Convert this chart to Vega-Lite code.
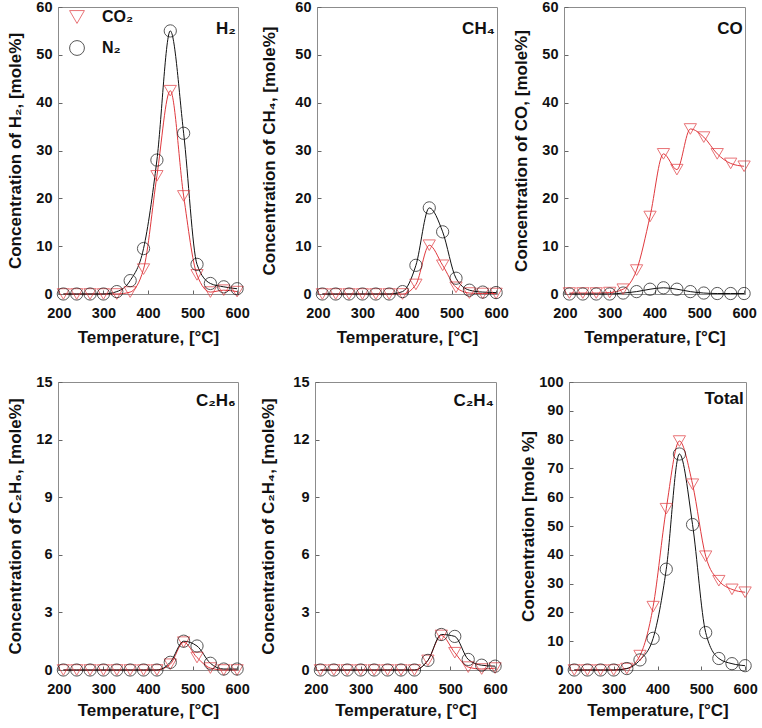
{
  "$schema": "https://vega.github.io/schema/vega-lite/v6.json",
  "background": "white",
  "padding": {"left": 6, "top": -2, "right": 1, "bottom": 2},
  "config": {
    "font": "Liberation Sans",
    "view": {"stroke": "#8c8c8c", "strokeWidth": 1},
    "scale": {"nice": false},
    "axis": {"grid": false, "labelFont": "Liberation Sans", "labelFontSize": 14.5, "labelFontWeight": "bold", "labelColor": "#111", "titleFont": "Liberation Sans", "titleFontSize": 17, "titleFontWeight": "bold", "titleColor": "#111", "domainColor": "#8c8c8c", "tickColor": "#666", "tickSize": -4, "labelFlush": false},
    "axisX": {"labelPadding": 16, "titlePadding": 10},
    "axisY": {"labelPadding": 10, "titlePadding": 11},
    "legend": {"orient": "none", "legendX": 11, "legendY": 2, "title": null, "labelFontSize": 16, "labelFontWeight": "bold", "labelColor": "#111", "symbolSize": 220, "symbolStrokeWidth": 1, "rowPadding": 12, "labelOffset": 17}
  },
  "datasets": {
    "d": [
      {"p": "H2", "gas": "CO2", "T": 210, "v": 0}, {"p": "H2", "gas": "CO2", "T": 240, "v": 0}, {"p": "H2", "gas": "CO2", "T": 270, "v": 0}, {"p": "H2", "gas": "CO2", "T": 300, "v": 0}, {"p": "H2", "gas": "CO2", "T": 330, "v": 0}, {"p": "H2", "gas": "CO2", "T": 360, "v": 0.4}, {"p": "H2", "gas": "CO2", "T": 390, "v": 5.2}, {"p": "H2", "gas": "CO2", "T": 420, "v": 24.7}, {"p": "H2", "gas": "CO2", "T": 450, "v": 42.5}, {"p": "H2", "gas": "CO2", "T": 480, "v": 20.5}, {"p": "H2", "gas": "CO2", "T": 510, "v": 4}, {"p": "H2", "gas": "CO2", "T": 540, "v": 0.4}, {"p": "H2", "gas": "CO2", "T": 570, "v": 0.8}, {"p": "H2", "gas": "CO2", "T": 600, "v": 0.5},
      {"p": "H2", "gas": "N2", "T": 210, "v": 0}, {"p": "H2", "gas": "N2", "T": 240, "v": 0}, {"p": "H2", "gas": "N2", "T": 270, "v": 0}, {"p": "H2", "gas": "N2", "T": 300, "v": 0}, {"p": "H2", "gas": "N2", "T": 330, "v": 0.5}, {"p": "H2", "gas": "N2", "T": 360, "v": 2.8}, {"p": "H2", "gas": "N2", "T": 390, "v": 9.5}, {"p": "H2", "gas": "N2", "T": 420, "v": 28}, {"p": "H2", "gas": "N2", "T": 450, "v": 55}, {"p": "H2", "gas": "N2", "T": 480, "v": 33.6}, {"p": "H2", "gas": "N2", "T": 510, "v": 6.2}, {"p": "H2", "gas": "N2", "T": 540, "v": 2.2}, {"p": "H2", "gas": "N2", "T": 570, "v": 1.5}, {"p": "H2", "gas": "N2", "T": 600, "v": 1.1},
      {"p": "CH4", "gas": "CO2", "T": 210, "v": 0}, {"p": "CH4", "gas": "CO2", "T": 240, "v": 0}, {"p": "CH4", "gas": "CO2", "T": 270, "v": 0}, {"p": "CH4", "gas": "CO2", "T": 300, "v": 0}, {"p": "CH4", "gas": "CO2", "T": 330, "v": 0}, {"p": "CH4", "gas": "CO2", "T": 360, "v": 0}, {"p": "CH4", "gas": "CO2", "T": 390, "v": 0}, {"p": "CH4", "gas": "CO2", "T": 420, "v": 2}, {"p": "CH4", "gas": "CO2", "T": 450, "v": 10.2}, {"p": "CH4", "gas": "CO2", "T": 480, "v": 6}, {"p": "CH4", "gas": "CO2", "T": 510, "v": 1.4}, {"p": "CH4", "gas": "CO2", "T": 540, "v": 0.2}, {"p": "CH4", "gas": "CO2", "T": 570, "v": 0.1}, {"p": "CH4", "gas": "CO2", "T": 600, "v": 0.1},
      {"p": "CH4", "gas": "N2", "T": 210, "v": 0}, {"p": "CH4", "gas": "N2", "T": 240, "v": 0}, {"p": "CH4", "gas": "N2", "T": 270, "v": 0}, {"p": "CH4", "gas": "N2", "T": 300, "v": 0}, {"p": "CH4", "gas": "N2", "T": 330, "v": 0}, {"p": "CH4", "gas": "N2", "T": 360, "v": 0}, {"p": "CH4", "gas": "N2", "T": 390, "v": 0.5}, {"p": "CH4", "gas": "N2", "T": 420, "v": 6}, {"p": "CH4", "gas": "N2", "T": 450, "v": 18}, {"p": "CH4", "gas": "N2", "T": 480, "v": 13}, {"p": "CH4", "gas": "N2", "T": 510, "v": 3.3}, {"p": "CH4", "gas": "N2", "T": 540, "v": 0.8}, {"p": "CH4", "gas": "N2", "T": 570, "v": 0.4}, {"p": "CH4", "gas": "N2", "T": 600, "v": 0.3},
      {"p": "CO", "gas": "CO2", "T": 210, "v": 0.2}, {"p": "CO", "gas": "CO2", "T": 240, "v": 0.2}, {"p": "CO", "gas": "CO2", "T": 270, "v": 0.2}, {"p": "CO", "gas": "CO2", "T": 300, "v": 0.3}, {"p": "CO", "gas": "CO2", "T": 330, "v": 1}, {"p": "CO", "gas": "CO2", "T": 360, "v": 5}, {"p": "CO", "gas": "CO2", "T": 390, "v": 16.2}, {"p": "CO", "gas": "CO2", "T": 420, "v": 29.3}, {"p": "CO", "gas": "CO2", "T": 450, "v": 26}, {"p": "CO", "gas": "CO2", "T": 480, "v": 34.5}, {"p": "CO", "gas": "CO2", "T": 510, "v": 32.8}, {"p": "CO", "gas": "CO2", "T": 540, "v": 29.3}, {"p": "CO", "gas": "CO2", "T": 570, "v": 27.3}, {"p": "CO", "gas": "CO2", "T": 600, "v": 26.7},
      {"p": "CO", "gas": "N2", "T": 210, "v": 0}, {"p": "CO", "gas": "N2", "T": 240, "v": 0}, {"p": "CO", "gas": "N2", "T": 270, "v": 0}, {"p": "CO", "gas": "N2", "T": 300, "v": 0}, {"p": "CO", "gas": "N2", "T": 330, "v": 0.2}, {"p": "CO", "gas": "N2", "T": 360, "v": 0.5}, {"p": "CO", "gas": "N2", "T": 390, "v": 1}, {"p": "CO", "gas": "N2", "T": 420, "v": 1.3}, {"p": "CO", "gas": "N2", "T": 450, "v": 1}, {"p": "CO", "gas": "N2", "T": 480, "v": 0.5}, {"p": "CO", "gas": "N2", "T": 510, "v": 0.2}, {"p": "CO", "gas": "N2", "T": 540, "v": 0.1}, {"p": "CO", "gas": "N2", "T": 570, "v": 0.1}, {"p": "CO", "gas": "N2", "T": 600, "v": 0.1},
      {"p": "C2H6", "gas": "CO2", "T": 210, "v": 0}, {"p": "C2H6", "gas": "CO2", "T": 240, "v": 0}, {"p": "C2H6", "gas": "CO2", "T": 270, "v": 0}, {"p": "C2H6", "gas": "CO2", "T": 300, "v": 0}, {"p": "C2H6", "gas": "CO2", "T": 330, "v": 0}, {"p": "C2H6", "gas": "CO2", "T": 360, "v": 0}, {"p": "C2H6", "gas": "CO2", "T": 390, "v": 0}, {"p": "C2H6", "gas": "CO2", "T": 420, "v": 0}, {"p": "C2H6", "gas": "CO2", "T": 450, "v": 0.3}, {"p": "C2H6", "gas": "CO2", "T": 480, "v": 1.45}, {"p": "C2H6", "gas": "CO2", "T": 510, "v": 0.65}, {"p": "C2H6", "gas": "CO2", "T": 540, "v": 0.1}, {"p": "C2H6", "gas": "CO2", "T": 570, "v": 0}, {"p": "C2H6", "gas": "CO2", "T": 600, "v": 0},
      {"p": "C2H6", "gas": "N2", "T": 210, "v": 0}, {"p": "C2H6", "gas": "N2", "T": 240, "v": 0}, {"p": "C2H6", "gas": "N2", "T": 270, "v": 0}, {"p": "C2H6", "gas": "N2", "T": 300, "v": 0}, {"p": "C2H6", "gas": "N2", "T": 330, "v": 0}, {"p": "C2H6", "gas": "N2", "T": 360, "v": 0}, {"p": "C2H6", "gas": "N2", "T": 390, "v": 0}, {"p": "C2H6", "gas": "N2", "T": 420, "v": 0}, {"p": "C2H6", "gas": "N2", "T": 450, "v": 0.4}, {"p": "C2H6", "gas": "N2", "T": 480, "v": 1.5}, {"p": "C2H6", "gas": "N2", "T": 510, "v": 1.25}, {"p": "C2H6", "gas": "N2", "T": 540, "v": 0.35}, {"p": "C2H6", "gas": "N2", "T": 570, "v": 0.05}, {"p": "C2H6", "gas": "N2", "T": 600, "v": 0.05},
      {"p": "C2H4", "gas": "CO2", "T": 210, "v": 0}, {"p": "C2H4", "gas": "CO2", "T": 240, "v": 0}, {"p": "C2H4", "gas": "CO2", "T": 270, "v": 0}, {"p": "C2H4", "gas": "CO2", "T": 300, "v": 0}, {"p": "C2H4", "gas": "CO2", "T": 330, "v": 0}, {"p": "C2H4", "gas": "CO2", "T": 360, "v": 0}, {"p": "C2H4", "gas": "CO2", "T": 390, "v": 0}, {"p": "C2H4", "gas": "CO2", "T": 420, "v": 0}, {"p": "C2H4", "gas": "CO2", "T": 450, "v": 0.5}, {"p": "C2H4", "gas": "CO2", "T": 480, "v": 1.8}, {"p": "C2H4", "gas": "CO2", "T": 510, "v": 0.9}, {"p": "C2H4", "gas": "CO2", "T": 540, "v": 0.15}, {"p": "C2H4", "gas": "CO2", "T": 570, "v": 0.05}, {"p": "C2H4", "gas": "CO2", "T": 600, "v": 0.1},
      {"p": "C2H4", "gas": "N2", "T": 210, "v": 0}, {"p": "C2H4", "gas": "N2", "T": 240, "v": 0}, {"p": "C2H4", "gas": "N2", "T": 270, "v": 0}, {"p": "C2H4", "gas": "N2", "T": 300, "v": 0}, {"p": "C2H4", "gas": "N2", "T": 330, "v": 0}, {"p": "C2H4", "gas": "N2", "T": 360, "v": 0}, {"p": "C2H4", "gas": "N2", "T": 390, "v": 0}, {"p": "C2H4", "gas": "N2", "T": 420, "v": 0}, {"p": "C2H4", "gas": "N2", "T": 450, "v": 0.5}, {"p": "C2H4", "gas": "N2", "T": 480, "v": 1.85}, {"p": "C2H4", "gas": "N2", "T": 510, "v": 1.75}, {"p": "C2H4", "gas": "N2", "T": 540, "v": 0.55}, {"p": "C2H4", "gas": "N2", "T": 570, "v": 0.25}, {"p": "C2H4", "gas": "N2", "T": 600, "v": 0.2},
      {"p": "Total", "gas": "CO2", "T": 210, "v": 0}, {"p": "Total", "gas": "CO2", "T": 240, "v": 0}, {"p": "Total", "gas": "CO2", "T": 270, "v": 0}, {"p": "Total", "gas": "CO2", "T": 300, "v": 0}, {"p": "Total", "gas": "CO2", "T": 330, "v": 0.5}, {"p": "Total", "gas": "CO2", "T": 360, "v": 5}, {"p": "Total", "gas": "CO2", "T": 390, "v": 22}, {"p": "Total", "gas": "CO2", "T": 420, "v": 56}, {"p": "Total", "gas": "CO2", "T": 450, "v": 79.5}, {"p": "Total", "gas": "CO2", "T": 480, "v": 64.5}, {"p": "Total", "gas": "CO2", "T": 510, "v": 39.5}, {"p": "Total", "gas": "CO2", "T": 540, "v": 31}, {"p": "Total", "gas": "CO2", "T": 570, "v": 28}, {"p": "Total", "gas": "CO2", "T": 600, "v": 27},
      {"p": "Total", "gas": "N2", "T": 210, "v": 0}, {"p": "Total", "gas": "N2", "T": 240, "v": 0}, {"p": "Total", "gas": "N2", "T": 270, "v": 0}, {"p": "Total", "gas": "N2", "T": 300, "v": 0}, {"p": "Total", "gas": "N2", "T": 330, "v": 0.5}, {"p": "Total", "gas": "N2", "T": 360, "v": 3.5}, {"p": "Total", "gas": "N2", "T": 390, "v": 11}, {"p": "Total", "gas": "N2", "T": 420, "v": 35}, {"p": "Total", "gas": "N2", "T": 450, "v": 75}, {"p": "Total", "gas": "N2", "T": 480, "v": 50.5}, {"p": "Total", "gas": "N2", "T": 510, "v": 13}, {"p": "Total", "gas": "N2", "T": 540, "v": 4}, {"p": "Total", "gas": "N2", "T": 570, "v": 2.2}, {"p": "Total", "gas": "N2", "T": 600, "v": 1.5}
    ],
    "labels": [
      {"p": "H2", "label": "H₂"}, {"p": "CH4", "label": "CH₄"}, {"p": "CO", "label": "CO"},
      {"p": "C2H6", "label": "C₂H₆"}, {"p": "C2H4", "label": "C₂H₄"}, {"p": "Total", "label": "Total"}
    ]
  },
  "spacing": 27,
  "resolve": {
    "scale": {"color": "independent", "shape": "independent"},
    "legend": {"color": "independent", "shape": "independent"}
  },
  "vconcat": [
    {
      "spacing": 3,
      "resolve": {"scale": {"color": "independent", "shape": "independent"}, "legend": {"color": "independent", "shape": "independent"}},
      "hconcat": [
        {
          "spacing": 10,
          "resolve": {"scale": {"color": "independent", "shape": "independent"}, "legend": {"color": "independent", "shape": "independent"}},
          "hconcat": [
            {
              "width": 180, "height": 287,
              "layer": [
                {"data": {"name": "d"}, "transform": [{"filter": "datum.p === 'H2'"}],
                 "mark": {"type": "line", "interpolate": "monotone", "strokeWidth": 1},
                 "encoding": {
                   "x": {"field": "T", "type": "quantitative", "scale": {"domain": [198, 602], "padding": 0, "zero": false}, "axis": {"values": [200, 300, 400, 500, 600], "title": "Temperature, [°C]"}},
                   "y": {"field": "v", "type": "quantitative", "scale": {"domain": [0, 60], "padding": 0}, "axis": {"values": [0, 10, 20, 30, 40, 50, 60], "title": "Concentration of H₂, [mole%]", "titlePadding": 11}},
                   "color": {"field": "gas", "type": "nominal", "scale": {"domain": ["CO2", "N2"], "range": ["#e0393e", "#111111"]}, "legend": {"labelExpr": "datum.value === 'CO2' ? 'CO₂' : 'N₂'"}}
                 }},
                {"data": {"name": "d"}, "transform": [{"filter": "datum.p === 'H2'"}],
                 "mark": {"type": "point", "filled": false, "size": 150, "strokeWidth": 1},
                 "encoding": {
                   "x": {"field": "T", "type": "quantitative", "scale": {"domain": [198, 602], "padding": 0, "zero": false}, "axis": {"values": [200, 300, 400, 500, 600], "title": "Temperature, [°C]"}},
                   "y": {"field": "v", "type": "quantitative", "scale": {"domain": [0, 60], "padding": 0}, "axis": {"values": [0, 10, 20, 30, 40, 50, 60], "title": "Concentration of H₂, [mole%]", "titlePadding": 11}},
                   "color": {"field": "gas", "type": "nominal", "scale": {"domain": ["CO2", "N2"], "range": ["#e0393e", "#111111"]}, "legend": {"labelExpr": "datum.value === 'CO2' ? 'CO₂' : 'N₂'"}},
                   "shape": {"field": "gas", "type": "nominal", "scale": {"domain": ["CO2", "N2"], "range": ["triangle-down", "circle"]}, "legend": {"labelExpr": "datum.value === 'CO2' ? 'CO₂' : 'N₂'"}}
                 }},
                {"data": {"name": "labels"}, "transform": [{"filter": "datum.p === 'H2'"}],
                 "mark": {"type": "text", "align": "right", "baseline": "middle", "fontSize": 17, "fontWeight": "bold", "color": "#111"},
                 "encoding": {
                   "x": {"datum": 597, "type": "quantitative", "scale": {"domain": [198, 602], "padding": 0, "zero": false}, "axis": {"values": [200, 300, 400, 500, 600], "title": "Temperature, [°C]"}},
                   "y": {"datum": 55.5, "type": "quantitative", "scale": {"domain": [0, 60], "padding": 0}, "axis": {"values": [0, 10, 20, 30, 40, 50, 60], "title": "Concentration of H₂, [mole%]", "titlePadding": 11}},
                   "text": {"field": "label"}}}
              ]
            },
            {
              "width": 180, "height": 287,
              "layer": [
                {"data": {"name": "d"}, "transform": [{"filter": "datum.p === 'CH4'"}],
                 "mark": {"type": "line", "interpolate": "monotone", "strokeWidth": 1},
                 "encoding": {
                   "x": {"field": "T", "type": "quantitative", "scale": {"domain": [198, 602], "padding": 0, "zero": false}, "axis": {"values": [200, 300, 400, 500, 600], "title": "Temperature, [°C]"}},
                   "y": {"field": "v", "type": "quantitative", "scale": {"domain": [0, 60], "padding": 0}, "axis": {"values": [0, 10, 20, 30, 40, 50, 60], "title": "Concentration of CH₄, [mole%]", "titlePadding": 16}},
                   "color": {"field": "gas", "type": "nominal", "scale": {"domain": ["CO2", "N2"], "range": ["#e0393e", "#111111"]}, "legend": null}
                 }},
                {"data": {"name": "d"}, "transform": [{"filter": "datum.p === 'CH4'"}],
                 "mark": {"type": "point", "filled": false, "size": 150, "strokeWidth": 1},
                 "encoding": {
                   "x": {"field": "T", "type": "quantitative", "scale": {"domain": [198, 602], "padding": 0, "zero": false}, "axis": {"values": [200, 300, 400, 500, 600], "title": "Temperature, [°C]"}},
                   "y": {"field": "v", "type": "quantitative", "scale": {"domain": [0, 60], "padding": 0}, "axis": {"values": [0, 10, 20, 30, 40, 50, 60], "title": "Concentration of CH₄, [mole%]", "titlePadding": 16}},
                   "color": {"field": "gas", "type": "nominal", "scale": {"domain": ["CO2", "N2"], "range": ["#e0393e", "#111111"]}, "legend": null},
                   "shape": {"field": "gas", "type": "nominal", "scale": {"domain": ["CO2", "N2"], "range": ["triangle-down", "circle"]}, "legend": null}
                 }},
                {"data": {"name": "labels"}, "transform": [{"filter": "datum.p === 'CH4'"}],
                 "mark": {"type": "text", "align": "right", "baseline": "middle", "fontSize": 17, "fontWeight": "bold", "color": "#111"},
                 "encoding": {
                   "x": {"datum": 597, "type": "quantitative", "scale": {"domain": [198, 602], "padding": 0, "zero": false}, "axis": {"values": [200, 300, 400, 500, 600], "title": "Temperature, [°C]"}},
                   "y": {"datum": 55.5, "type": "quantitative", "scale": {"domain": [0, 60], "padding": 0}, "axis": {"values": [0, 10, 20, 30, 40, 50, 60], "title": "Concentration of CH₄, [mole%]", "titlePadding": 16}},
                   "text": {"field": "label"}}}
              ]
            }
          ]
        },
        {
          "width": 181, "height": 287,
          "layer": [
            {"data": {"name": "d"}, "transform": [{"filter": "datum.p === 'CO'"}],
             "mark": {"type": "line", "interpolate": "monotone", "strokeWidth": 1},
             "encoding": {
               "x": {"field": "T", "type": "quantitative", "scale": {"domain": [198, 602], "padding": 0, "zero": false}, "axis": {"values": [200, 300, 400, 500, 600], "title": "Temperature, [°C]"}},
               "y": {"field": "v", "type": "quantitative", "scale": {"domain": [0, 60], "padding": 0}, "axis": {"values": [0, 10, 20, 30, 40, 50, 60], "title": "Concentration of CO, [mole%]", "titlePadding": 11}},
               "color": {"field": "gas", "type": "nominal", "scale": {"domain": ["CO2", "N2"], "range": ["#e0393e", "#111111"]}, "legend": null}
             }},
            {"data": {"name": "d"}, "transform": [{"filter": "datum.p === 'CO'"}],
             "mark": {"type": "point", "filled": false, "size": 150, "strokeWidth": 1},
             "encoding": {
               "x": {"field": "T", "type": "quantitative", "scale": {"domain": [198, 602], "padding": 0, "zero": false}, "axis": {"values": [200, 300, 400, 500, 600], "title": "Temperature, [°C]"}},
               "y": {"field": "v", "type": "quantitative", "scale": {"domain": [0, 60], "padding": 0}, "axis": {"values": [0, 10, 20, 30, 40, 50, 60], "title": "Concentration of CO, [mole%]", "titlePadding": 11}},
               "color": {"field": "gas", "type": "nominal", "scale": {"domain": ["CO2", "N2"], "range": ["#e0393e", "#111111"]}, "legend": null},
               "shape": {"field": "gas", "type": "nominal", "scale": {"domain": ["CO2", "N2"], "range": ["triangle-down", "circle"]}, "legend": null}
             }},
            {"data": {"name": "labels"}, "transform": [{"filter": "datum.p === 'CO'"}],
             "mark": {"type": "text", "align": "right", "baseline": "middle", "fontSize": 17, "fontWeight": "bold", "color": "#111"},
             "encoding": {
               "x": {"datum": 597, "type": "quantitative", "scale": {"domain": [198, 602], "padding": 0, "zero": false}, "axis": {"values": [200, 300, 400, 500, 600], "title": "Temperature, [°C]"}},
               "y": {"datum": 55.5, "type": "quantitative", "scale": {"domain": [0, 60], "padding": 0}, "axis": {"values": [0, 10, 20, 30, 40, 50, 60], "title": "Concentration of CO, [mole%]", "titlePadding": 11}},
               "text": {"field": "label"}}}
          ]
        }
      ]
    },
    {
      "spacing": 11,
      "resolve": {"scale": {"color": "independent", "shape": "independent"}, "legend": {"color": "independent", "shape": "independent"}},
      "hconcat": [
        {
          "spacing": 9,
          "resolve": {"scale": {"color": "independent", "shape": "independent"}, "legend": {"color": "independent", "shape": "independent"}},
          "hconcat": [
            {
              "width": 180, "height": 288,
              "layer": [
                {"data": {"name": "d"}, "transform": [{"filter": "datum.p === 'C2H6'"}],
                 "mark": {"type": "line", "interpolate": "monotone", "strokeWidth": 1},
                 "encoding": {
                   "x": {"field": "T", "type": "quantitative", "scale": {"domain": [198, 602], "padding": 0, "zero": false}, "axis": {"values": [200, 300, 400, 500, 600], "title": "Temperature, [°C]", "titlePadding": 7}},
                   "y": {"field": "v", "type": "quantitative", "scale": {"domain": [0, 15], "padding": 0}, "axis": {"values": [0, 3, 6, 9, 12, 15], "title": "Concentration of C₂H₆, [mole%]", "titlePadding": 11}},
                   "color": {"field": "gas", "type": "nominal", "scale": {"domain": ["CO2", "N2"], "range": ["#e0393e", "#111111"]}, "legend": null}
                 }},
                {"data": {"name": "d"}, "transform": [{"filter": "datum.p === 'C2H6'"}],
                 "mark": {"type": "point", "filled": false, "size": 150, "strokeWidth": 1},
                 "encoding": {
                   "x": {"field": "T", "type": "quantitative", "scale": {"domain": [198, 602], "padding": 0, "zero": false}, "axis": {"values": [200, 300, 400, 500, 600], "title": "Temperature, [°C]", "titlePadding": 7}},
                   "y": {"field": "v", "type": "quantitative", "scale": {"domain": [0, 15], "padding": 0}, "axis": {"values": [0, 3, 6, 9, 12, 15], "title": "Concentration of C₂H₆, [mole%]", "titlePadding": 11}},
                   "color": {"field": "gas", "type": "nominal", "scale": {"domain": ["CO2", "N2"], "range": ["#e0393e", "#111111"]}, "legend": null},
                   "shape": {"field": "gas", "type": "nominal", "scale": {"domain": ["CO2", "N2"], "range": ["triangle-down", "circle"]}, "legend": null}
                 }},
                {"data": {"name": "labels"}, "transform": [{"filter": "datum.p === 'C2H6'"}],
                 "mark": {"type": "text", "align": "right", "baseline": "middle", "fontSize": 17, "fontWeight": "bold", "color": "#111"},
                 "encoding": {
                   "x": {"datum": 597, "type": "quantitative", "scale": {"domain": [198, 602], "padding": 0, "zero": false}, "axis": {"values": [200, 300, 400, 500, 600], "title": "Temperature, [°C]", "titlePadding": 7}},
                   "y": {"datum": 14, "type": "quantitative", "scale": {"domain": [0, 15], "padding": 0}, "axis": {"values": [0, 3, 6, 9, 12, 15], "title": "Concentration of C₂H₆, [mole%]", "titlePadding": 11}},
                   "text": {"field": "label"}}}
              ]
            },
            {
              "width": 181, "height": 288,
              "layer": [
                {"data": {"name": "d"}, "transform": [{"filter": "datum.p === 'C2H4'"}],
                 "mark": {"type": "line", "interpolate": "monotone", "strokeWidth": 1},
                 "encoding": {
                   "x": {"field": "T", "type": "quantitative", "scale": {"domain": [198, 602], "padding": 0, "zero": false}, "axis": {"values": [200, 300, 400, 500, 600], "title": "Temperature, [°C]", "titlePadding": 7}},
                   "y": {"field": "v", "type": "quantitative", "scale": {"domain": [0, 15], "padding": 0}, "axis": {"values": [0, 3, 6, 9, 12, 15], "title": "Concentration of C₂H₄, [mole%]", "titlePadding": 15}},
                   "color": {"field": "gas", "type": "nominal", "scale": {"domain": ["CO2", "N2"], "range": ["#e0393e", "#111111"]}, "legend": null}
                 }},
                {"data": {"name": "d"}, "transform": [{"filter": "datum.p === 'C2H4'"}],
                 "mark": {"type": "point", "filled": false, "size": 150, "strokeWidth": 1},
                 "encoding": {
                   "x": {"field": "T", "type": "quantitative", "scale": {"domain": [198, 602], "padding": 0, "zero": false}, "axis": {"values": [200, 300, 400, 500, 600], "title": "Temperature, [°C]", "titlePadding": 7}},
                   "y": {"field": "v", "type": "quantitative", "scale": {"domain": [0, 15], "padding": 0}, "axis": {"values": [0, 3, 6, 9, 12, 15], "title": "Concentration of C₂H₄, [mole%]", "titlePadding": 15}},
                   "color": {"field": "gas", "type": "nominal", "scale": {"domain": ["CO2", "N2"], "range": ["#e0393e", "#111111"]}, "legend": null},
                   "shape": {"field": "gas", "type": "nominal", "scale": {"domain": ["CO2", "N2"], "range": ["triangle-down", "circle"]}, "legend": null}
                 }},
                {"data": {"name": "labels"}, "transform": [{"filter": "datum.p === 'C2H4'"}],
                 "mark": {"type": "text", "align": "right", "baseline": "middle", "fontSize": 17, "fontWeight": "bold", "color": "#111"},
                 "encoding": {
                   "x": {"datum": 597, "type": "quantitative", "scale": {"domain": [198, 602], "padding": 0, "zero": false}, "axis": {"values": [200, 300, 400, 500, 600], "title": "Temperature, [°C]", "titlePadding": 7}},
                   "y": {"datum": 14, "type": "quantitative", "scale": {"domain": [0, 15], "padding": 0}, "axis": {"values": [0, 3, 6, 9, 12, 15], "title": "Concentration of C₂H₄, [mole%]", "titlePadding": 15}},
                   "text": {"field": "label"}}}
              ]
            }
          ]
        },
        {
          "width": 177, "height": 288,
          "layer": [
            {"data": {"name": "d"}, "transform": [{"filter": "datum.p === 'Total'"}],
             "mark": {"type": "line", "interpolate": "monotone", "strokeWidth": 1},
             "encoding": {
               "x": {"field": "T", "type": "quantitative", "scale": {"domain": [198, 602], "padding": 0, "zero": false}, "axis": {"values": [200, 300, 400, 500, 600], "title": "Temperature, [°C]", "titlePadding": 7}},
               "y": {"field": "v", "type": "quantitative", "scale": {"domain": [0, 100], "padding": 0}, "axis": {"values": [0, 10, 20, 30, 40, 50, 60, 70, 80, 90, 100], "title": "Concentration [mole %]", "titlePadding": 1}},
               "color": {"field": "gas", "type": "nominal", "scale": {"domain": ["CO2", "N2"], "range": ["#e0393e", "#111111"]}, "legend": null}
             }},
            {"data": {"name": "d"}, "transform": [{"filter": "datum.p === 'Total'"}],
             "mark": {"type": "point", "filled": false, "size": 150, "strokeWidth": 1},
             "encoding": {
               "x": {"field": "T", "type": "quantitative", "scale": {"domain": [198, 602], "padding": 0, "zero": false}, "axis": {"values": [200, 300, 400, 500, 600], "title": "Temperature, [°C]", "titlePadding": 7}},
               "y": {"field": "v", "type": "quantitative", "scale": {"domain": [0, 100], "padding": 0}, "axis": {"values": [0, 10, 20, 30, 40, 50, 60, 70, 80, 90, 100], "title": "Concentration [mole %]", "titlePadding": 1}},
               "color": {"field": "gas", "type": "nominal", "scale": {"domain": ["CO2", "N2"], "range": ["#e0393e", "#111111"]}, "legend": null},
               "shape": {"field": "gas", "type": "nominal", "scale": {"domain": ["CO2", "N2"], "range": ["triangle-down", "circle"]}, "legend": null}
             }},
            {"data": {"name": "labels"}, "transform": [{"filter": "datum.p === 'Total'"}],
             "mark": {"type": "text", "align": "right", "baseline": "middle", "fontSize": 17, "fontWeight": "bold", "color": "#111"},
             "encoding": {
               "x": {"datum": 597, "type": "quantitative", "scale": {"domain": [198, 602], "padding": 0, "zero": false}, "axis": {"values": [200, 300, 400, 500, 600], "title": "Temperature, [°C]", "titlePadding": 7}},
               "y": {"datum": 94, "type": "quantitative", "scale": {"domain": [0, 100], "padding": 0}, "axis": {"values": [0, 10, 20, 30, 40, 50, 60, 70, 80, 90, 100], "title": "Concentration [mole %]", "titlePadding": 1}},
               "text": {"field": "label"}}}
          ]
        }
      ]
    }
  ]
}
